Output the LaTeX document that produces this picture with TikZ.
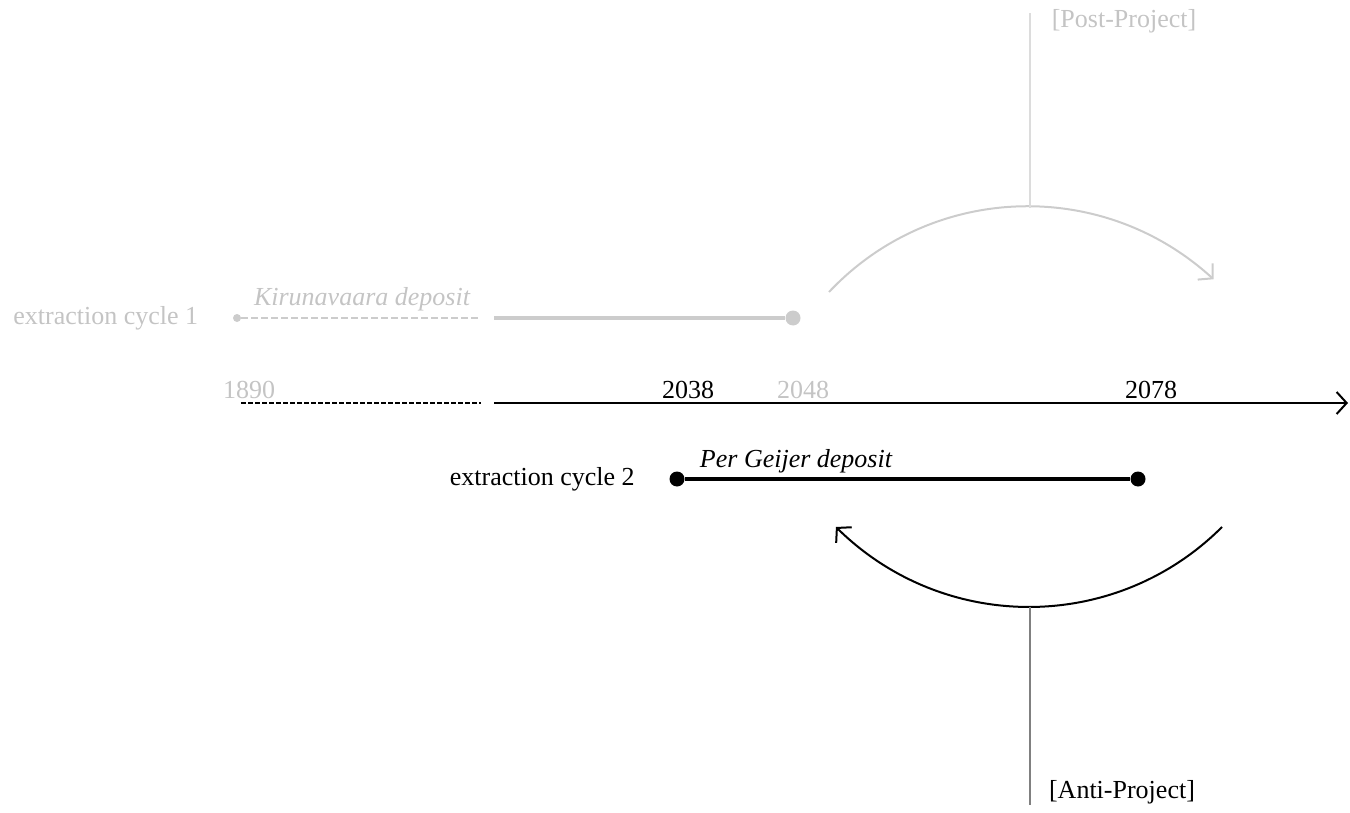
\documentclass[tikz,border=0pt]{standalone}
\usepackage{fontspec}
\setmainfont{Liberation Serif}
\usetikzlibrary{arrows.meta, bending, positioning}

\definecolor{faded}{RGB}{204,204,204}
\definecolor{fadedtext}{RGB}{196,196,196}
\definecolor{paleline}{RGB}{220,220,220}
\definecolor{stemgray}{RGB}{128,128,128}

\tikzset{
  lbl/.style={font=\fontsize{13}{15}\selectfont, inner sep=1pt},
  dot/.style={circle, fill, inner sep=0pt, minimum size=7.5pt},
  tip/.style={-{Straight Barb[length=5pt, width=11pt]}}
}

\begin{document}
\begin{tikzpicture}[x=0.5pt, y=-0.5pt]
    \useasboundingbox (0,0) rectangle (1350,813);

    % time axis
    \coordinate (ax0) at (241,403);
    \coordinate (ax1) at (481,403);
    \coordinate (ax2) at (494,403);
    \coordinate (ax3) at (1348,403);
    \draw[dash pattern=on 2.5pt off 1pt, line width=0.6pt] (ax0) -- (ax1);
    \draw[line width=1pt, tip] (ax2) -- (ax3);

    % years
    \node[lbl, anchor=base, fadedtext] (y1890) at (249,398) {1890};
    \node[lbl, anchor=base] (y2038) at (688,398) {2038};
    \node[lbl, anchor=base, fadedtext] (y2048) at (803,398) {2048};
    \node[lbl, anchor=base] (y2078) at (1151,398) {2078};

    % extraction cycle 1
    \node[dot, faded, minimum size=4pt] (c1start) at (237,318) {};
    \coordinate (c1a) at (481,318);
    \coordinate (c1b) at (494,318);
    \node[dot, faded] (c1end) at (793,318) {};
    \draw[faded, line width=1pt, dash pattern=on 3.5pt off 1.5pt] (c1start) -- (c1a);
    \draw[faded, line width=1.6pt] (c1b) -- (c1end);
    \node[lbl, fadedtext, left=16pt of c1start] (cyc1) {extraction cycle 1};
    \node[lbl, fadedtext, font=\fontsize{13}{15}\selectfont\itshape] (kiruna) at (362,299) {Kirunavaara deposit};

    % extraction cycle 2
    \node[dot] (c2start) at (677,479) {};
    \node[dot] (c2end) at (1138,479) {};
    \draw[line width=1.6pt] (c2start) -- (c2end);
    \node[lbl, left=16pt of c2start] (cyc2) {extraction cycle 2};
    \node[lbl, font=\fontsize{13}{15}\selectfont\itshape] (geijer) at (796,461) {Per Geijer deposit};

    % post-project
    \coordinate (postarc) at (829,292);
    \coordinate (posttop) at (1030,208);
    \coordinate (poststem) at (1030,13);
    \draw[faded, line width=1pt, tip] (postarc) arc[start angle=136.7, end angle=47.1, radius=136.5pt];
    \draw[paleline, line width=0.6pt] (posttop) -- (poststem);
    \node[lbl, fadedtext] (post) at (1124,21) {[Post-Project]};

    % anti-project
    \coordinate (antiarc) at (1222,527);
    \coordinate (antibot) at (1030,607);
    \coordinate (antistem) at (1030,805);
    \draw[line width=1pt, tip] (antiarc) arc[start angle=-45, end angle=-135, radius=136.5pt];
    \draw[stemgray, line width=0.7pt] (antibot) -- (antistem);
    \node[lbl] (anti) at (1122,792) {[Anti-Project]};

\end{tikzpicture}
\end{document}
